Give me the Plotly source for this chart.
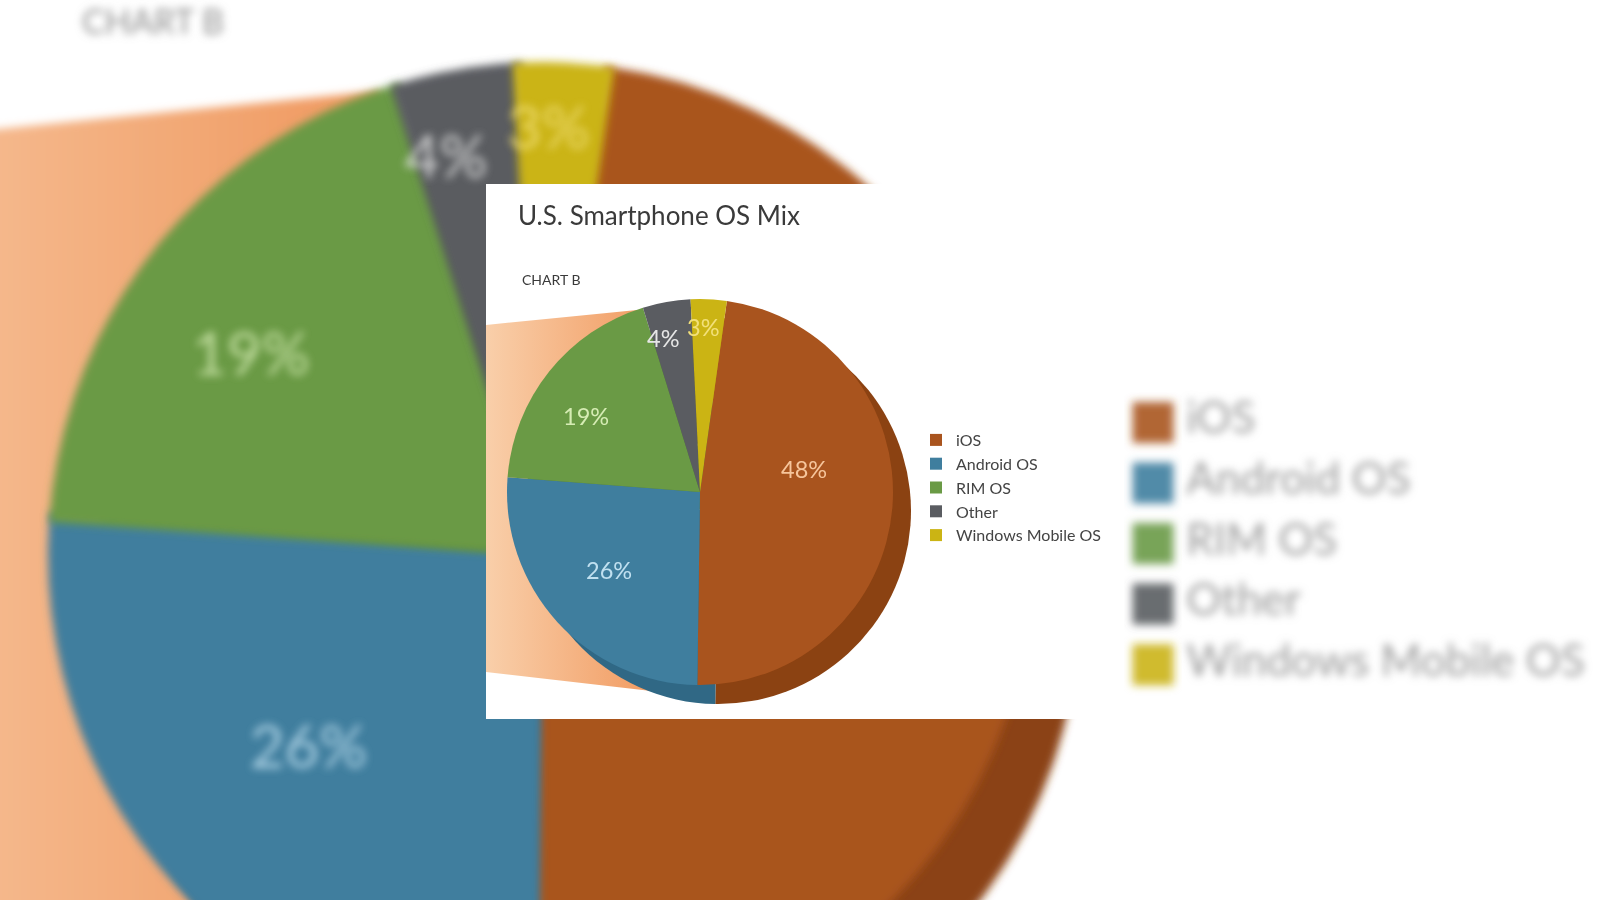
import numpy as np
import plotly.graph_objects as go

# ---------------- data ----------------
labels = ["iOS", "Android OS", "RIM OS", "Other", "Windows Mobile OS"]
shares = [48, 26, 19, 4, 3]
title_text = "U.S. Smartphone OS Mix"
subtitle_text = "CHART B"

# ---------------- style ----------------
face_colors = ["#a9541e", "#3f7e9e", "#6a9a45", "#5a5c61", "#cbb414"]
rim_colors = ["#8b4212", "#306885", "#557f36", "#47494d", "#a8950f"]
label_colors = ["#f6c59b", "#c0e0f0", "#d6ecb4", "#e6e6e6", "#f2e07a"]
label_radius = [0.55, 0.62, 0.71, 0.82, 0.855]   # fraction of radius
label_dang = [-17, 2, -4.7, -3.6, -1.6]          # perspective nudges (deg)
FONT = "Lato"

W, H = 1600, 900
ROT = 8                      # first slice starts a little right of 12 o'clock
CX, CY, R = 700, 492, 193    # sharp pie face, pixels
RIM_DX, RIM_DY = 18, 19      # 3-D depth offset
S = 2.55                     # magnification of the blurred background copy
BX, BY = 541, 555            # background pie centre
BOX = (486, 184, 1112, 719)  # white card of the sharp chart
LEG_SQ_X, LEG_Y0, LEG_DY = 940, 440, 23.75   # sharp legend geometry
LEG_TXT_X = 953
SEAM = 0.5                   # small overlap between neighbouring wedges (deg)


def to_bg(x, y):
    return (np.asarray(x, float) - CX) * S + BX, (np.asarray(y, float) - CY) * S + BY


total = float(sum(shares))
edges = ROT + 360.0 * np.concatenate([[0], np.cumsum(shares)]) / total
mids = (edges[:-1] + edges[1:]) / 2
lab_ang = np.radians(mids + np.array(label_dang))
lab_dx = R * np.array(label_radius) * np.sin(lab_ang)
lab_dy = -R * np.array(label_radius) * np.cos(lab_ang)
pct = [f"{v}%" for v in shares]


def wedge(cx, cy, r, a0, a1):
    t = np.radians(np.linspace(a0, a1, 160))
    xs = np.concatenate([[cx], cx + r * np.sin(t), [cx]])
    ys = np.concatenate([[cy], cy - r * np.cos(t), [cy]])
    return xs, ys


fig = go.Figure()

# ================= blurred, magnified background copy =================
ext_x = [470, 486, 637, CX, 660, 486, 470]
ext_y = [327, 325, 310, CY, 692, 672, 669]
bx, by = to_bg(ext_x, ext_y)
fig.add_trace(go.Scatter(
    x=bx, y=by, mode="lines", fill="toself", line=dict(width=0),
    fillgradient=dict(type="horizontal",
                      colorscale=[[0, "#f5bb90"], [1, "#ee8b4c"]]),
    hoverinfo="skip", showlegend=False))

brx, bry = BX + RIM_DX * S, BY + RIM_DY * S
for i in range(len(shares)):
    xs, ys = wedge(brx, bry, R * S, edges[i] - SEAM, edges[i + 1] + SEAM)
    fig.add_trace(go.Scatter(x=xs, y=ys, mode="lines", fill="toself",
                             fillcolor=rim_colors[i],
                             line=dict(width=1.5, color=rim_colors[i]),
                             hoverinfo="skip", showlegend=False))
for i in range(len(shares)):
    xs, ys = wedge(BX, BY, R * S, edges[i] - SEAM, edges[i + 1] + SEAM)
    fig.add_trace(go.Scatter(x=xs, y=ys, mode="lines", fill="toself",
                             fillcolor=face_colors[i],
                             line=dict(width=1.5, color=face_colors[i]),
                             hoverinfo="skip", showlegend=False))

# background slice labels (the one hidden behind the white card is left out)
blx, bly = BX + lab_dx * S, BY + lab_dy * S
vis = [not (BOX[0] < x < BOX[2] and BOX[1] < y < BOX[3]) for x, y in zip(blx, bly)]
fig.add_trace(go.Scatter(
    x=[x for x, v in zip(blx, vis) if v], y=[y for y, v in zip(bly, vis) if v],
    mode="text", text=[t for t, v in zip(pct, vis) if v],
    textfont=dict(family=FONT, size=60,
                  color=[c for c, v in zip(label_colors, vis) if v]),
    opacity=0.85, hoverinfo="skip", showlegend=False))

# background "CHART B"
fig.add_trace(go.Scatter(
    x=[82], y=[25], mode="text", text=[subtitle_text], textposition="middle right",
    textfont=dict(family=FONT, size=34, color="#8c8c8c"),
    hoverinfo="skip", showlegend=False))

# background legend
rows_y = [LEG_Y0 + i * LEG_DY for i in range(len(labels))]
sqx, sqy = to_bg([LEG_SQ_X] * len(labels), rows_y)
fig.add_trace(go.Scatter(
    x=sqx, y=sqy, mode="markers",
    marker=dict(symbol="square", size=41, color=face_colors, opacity=0.9,
                line=dict(width=0)),
    hoverinfo="skip", showlegend=False))
txx, _ = to_bg([LEG_TXT_X] * len(labels), rows_y)
fig.add_trace(go.Scatter(
    x=txx, y=sqy, mode="text", text=labels, textposition="middle right",
    textfont=dict(family=FONT, size=44, color="#9a9a9a"),
    hoverinfo="skip", showlegend=False))

N_BG = len(fig.data)

# ================= white card of the sharp chart =================
fig.add_trace(go.Scatter(
    x=[BOX[0], BOX[2], BOX[2], BOX[0], BOX[0]],
    y=[BOX[1], BOX[1], BOX[3], BOX[3], BOX[1]],
    mode="lines", fill="toself", fillcolor="white", line=dict(width=0),
    hoverinfo="skip", showlegend=False))

# sharp chart orange extrusion
fig.add_trace(go.Scatter(
    x=ext_x[1:-1], y=ext_y[1:-1], mode="lines", fill="toself", line=dict(width=0),
    fillgradient=dict(type="horizontal",
                      colorscale=[[0, "#f9cfaa"], [1, "#ef8c4c"]]),
    hoverinfo="skip", showlegend=False))


def dom(cx, cy):
    return dict(x=[(cx - R) / W, (cx + R) / W], y=[1 - (cy + R) / H, 1 - (cy - R) / H])


# depth rim
fig.add_trace(go.Pie(
    labels=labels, values=shares, sort=False, direction="clockwise", rotation=ROT,
    marker=dict(colors=rim_colors, line=dict(width=0)), textinfo="none",
    domain=dom(CX + RIM_DX, CY + RIM_DY), showlegend=False, hoverinfo="skip"))
# face
fig.add_trace(go.Pie(
    labels=labels, values=shares, sort=False, direction="clockwise", rotation=ROT,
    marker=dict(colors=face_colors, line=dict(width=0)), textinfo="none",
    domain=dom(CX, CY), hovertemplate="%{label}: %{value}%<extra></extra>"))

annotations = [dict(text=subtitle_text, x=520 / W, y=1 - 279 / H, xref="paper",
                    yref="paper", xanchor="left", yanchor="middle", showarrow=False,
                    font=dict(family=FONT, size=14, color="#3a3a3a"))]
for t, dx, dy, c in zip(pct, lab_dx, lab_dy, label_colors):
    annotations.append(dict(text=t, x=(CX + dx) / W, y=1 - (CY + dy) / H,
                            xref="paper", yref="paper", showarrow=False,
                            font=dict(family=FONT, size=23.5, color=c)))

fig.update_layout(
    width=W, height=H, margin=dict(l=0, r=0, t=0, b=0),
    paper_bgcolor="white", plot_bgcolor="white",
    xaxis=dict(range=[0, W], visible=False, fixedrange=True),
    yaxis=dict(range=[H, 0], visible=False, fixedrange=True),
    title=dict(text=title_text, x=518 / W, xanchor="left", xref="container",
               y=1 - 216 / H, yanchor="middle", yref="container",
               font=dict(family=FONT, size=26, color="#3a3a3a")),
    annotations=annotations,
    legend=dict(x=916 / W, y=1 - 423 / H, xanchor="left", yanchor="top",
                font=dict(family=FONT, size=16, color="#444444"),
                bgcolor="rgba(0,0,0,0)", tracegroupgap=0),
    showlegend=True,
)

post = """
document.body.style.margin = '0';
var gd = document.getElementById('{plot_id}');
var svg = gd.querySelector('svg.main-svg');
var ns = 'http://www.w3.org/2000/svg';
var defs = svg.querySelector('defs') || svg.insertBefore(document.createElementNS(ns, 'defs'), svg.firstChild);
var f = document.createElementNS(ns, 'filter');
f.setAttribute('id', 'bgblur'); f.setAttribute('x', '-20%%'); f.setAttribute('y', '-20%%');
f.setAttribute('width', '140%%'); f.setAttribute('height', '140%%');
var g = document.createElementNS(ns, 'feGaussianBlur');
g.setAttribute('stdDeviation', '4.5');
f.appendChild(g); defs.appendChild(f);
var tr = gd.querySelectorAll('.cartesianlayer .scatterlayer g.trace');
for (var i = 0; i < %d && i < tr.length; i++) { tr[i].setAttribute('filter', 'url(#bgblur)'); }
""" % N_BG

fig.write_html("out.html", post_script=post, config={"displayModeBar": False})
